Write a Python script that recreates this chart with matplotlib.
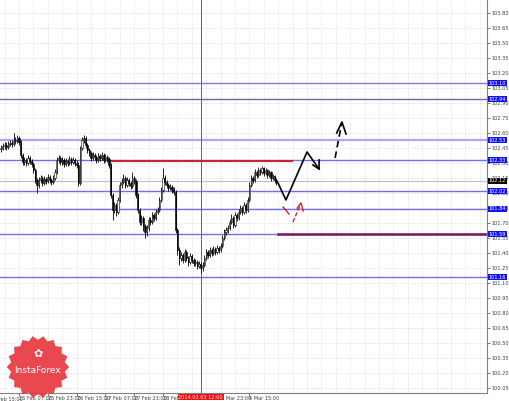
import numpy as np
import matplotlib
matplotlib.use("Agg")
import matplotlib.pyplot as plt
from matplotlib.patches import Polygon

# H1 bars, bar 0 = 24 Feb 21:00
first_open = 102.44
closes = [102.45, 102.47, 102.48, 102.46, 102.49, 102.50, 102.49, 102.52, 102.53, 102.55,
          102.51, 102.38, 102.31, 102.33, 102.30, 102.35, 102.32, 102.29, 102.23, 102.13,
          102.08, 102.13, 102.15, 102.10, 102.14, 102.12, 102.16, 102.13, 102.11, 102.15,
          102.21, 102.33, 102.35, 102.31, 102.33, 102.29, 102.32, 102.30, 102.34, 102.31,
          102.33, 102.30, 102.28, 102.10, 102.45, 102.53, 102.55, 102.48, 102.43, 102.40,
          102.35, 102.38, 102.36, 102.33, 102.37, 102.35, 102.38, 102.33, 102.36, 102.34,
          102.28, 101.98, 101.83, 101.88, 101.81, 101.93, 102.08, 102.11, 102.15, 102.08,
          102.13, 102.10, 102.07, 102.15, 102.12, 101.98, 101.83, 101.71, 101.75, 101.67,
          101.61, 101.65, 101.73, 101.71, 101.78, 101.75, 101.81, 101.83, 101.93, 102.03,
          102.15, 102.11, 102.08, 102.05, 102.06, 102.03, 102.01, 101.63, 101.43, 101.35,
          101.38, 101.33, 101.41, 101.35, 101.31, 101.37, 101.33, 101.30, 101.31, 101.27,
          101.29, 101.25, 101.28, 101.35, 101.41, 101.38, 101.43, 101.40, 101.44, 101.41,
          101.45, 101.43, 101.47, 101.55, 101.61, 101.63, 101.65, 101.71, 101.75, 101.68,
          101.78, 101.75, 101.81, 101.85, 101.81, 101.88, 101.83, 101.93, 102.08, 102.15,
          102.13, 102.21, 102.18, 102.23, 102.21, 102.25, 102.20, 102.23, 102.18, 102.21,
          102.15, 102.17, 102.13, 102.11]
highs = [102.48, 102.50, 102.51, 102.51, 102.52, 102.53, 102.53, 102.60, 102.56, 102.58,
         102.57, 102.53, 102.40, 102.36, 102.35, 102.38, 102.37, 102.34, 102.31, 102.25,
         102.15, 102.16, 102.18, 102.17, 102.17, 102.16, 102.19, 102.18, 102.15, 102.18,
         102.24, 102.36, 102.38, 102.37, 102.36, 102.35, 102.35, 102.34, 102.37, 102.36,
         102.36, 102.35, 102.33, 102.31, 102.47, 102.56, 102.58, 102.57, 102.50, 102.45,
         102.42, 102.41, 102.40, 102.38, 102.40, 102.39, 102.41, 102.40, 102.39, 102.38,
         102.36, 102.30, 102.00, 101.91, 101.90, 101.96, 102.11, 102.15, 102.19, 102.17,
         102.16, 102.15, 102.12, 102.21, 102.17, 102.14, 102.00, 101.85, 101.78, 101.77,
         101.69, 101.68, 101.76, 101.76, 101.81, 101.80, 101.84, 101.86, 101.96, 102.06,
         102.25, 102.18, 102.13, 102.10, 102.09, 102.08, 102.06, 102.03, 101.65, 101.46,
         101.41, 101.40, 101.44, 101.43, 101.37, 101.40, 101.39, 101.35, 101.34, 101.33,
         101.32, 101.31, 101.31, 101.38, 101.44, 101.43, 101.46, 101.45, 101.47, 101.46,
         101.48, 101.47, 101.50, 101.58, 101.64, 101.66, 101.68, 101.74, 101.79, 101.77,
         101.81, 101.80, 101.84, 101.88, 101.87, 101.91, 101.90, 101.96, 102.11, 102.18,
         102.17, 102.24, 102.23, 102.26, 102.25, 102.27, 102.26, 102.25, 102.24, 102.23,
         102.22, 102.19, 102.18, 102.15]
lows = [102.41, 102.43, 102.44, 102.43, 102.44, 102.47, 102.46, 102.47, 102.49, 102.50,
        102.48, 102.35, 102.28, 102.28, 102.27, 102.28, 102.29, 102.26, 102.20, 102.10,
        102.00, 102.05, 102.10, 102.07, 102.08, 102.09, 102.10, 102.10, 102.08, 102.09,
        102.13, 102.19, 102.30, 102.28, 102.28, 102.26, 102.27, 102.27, 102.28, 102.28,
        102.29, 102.27, 102.25, 102.07, 102.08, 102.43, 102.50, 102.45, 102.40, 102.37,
        102.32, 102.33, 102.33, 102.30, 102.31, 102.32, 102.33, 102.30, 102.31, 102.31,
        102.25, 101.95, 101.73, 101.80, 101.77, 101.79, 101.91, 102.05, 102.09, 102.05,
        102.06, 102.07, 102.04, 102.05, 102.09, 101.95, 101.80, 101.68, 101.68, 101.62,
        101.55, 101.57, 101.62, 101.68, 101.69, 101.72, 101.73, 101.79, 101.81, 101.91,
        102.01, 102.08, 102.05, 102.02, 102.03, 102.00, 101.98, 101.60, 101.38, 101.28,
        101.32, 101.30, 101.31, 101.32, 101.27, 101.29, 101.30, 101.27, 101.27, 101.24,
        101.25, 101.20, 101.22, 101.26, 101.33, 101.35, 101.36, 101.37, 101.38, 101.38,
        101.39, 101.40, 101.41, 101.45, 101.53, 101.58, 101.60, 101.63, 101.69, 101.65,
        101.66, 101.72, 101.73, 101.79, 101.78, 101.79, 101.80, 101.81, 101.91, 102.06,
        102.10, 102.11, 102.15, 102.16, 102.18, 102.19, 102.17, 102.18, 102.15, 102.16,
        102.12, 102.13, 102.10, 102.08]

time_labels = ["24 Feb 15:00", "25 Feb 07:00", "25 Feb 23:00", "26 Feb 15:00", "27 Feb 07:00",
               "27 Feb 23:00", "28 Feb 15:00", "3 Mar 23:00", "4 Mar 15:00"]
time_bars = [-6, 10, 26, 42, 58, 74, 90, 122, 138]
now_bar = 111
now_label = "2014.03.03 12:00"

levels = [103.10, 102.94, 102.53, 102.33, 102.02, 101.84, 101.59, 101.16]
level_colors = ["#7b7bd8", "#6a6aa8", "#a8a8ff", "#6f6ff0", "#6f6ff0", "#6f6ff0", "#6f6ff0", "#6f6ff0"]
bid = 102.12

res_line = (60.5, 161.5, 102.32)   # red segment: from bar, to bar, price
sup_line = (153.9, 300, 101.59)    # purple segment

# forecast paths (bar, price)
black_path = [(153.9, 102.10), (158.3, 101.93), (170.0, 102.41), (176.7, 102.24)]
black_head = [(173.3, 102.28), (176.7, 102.24), (176.7, 102.33)]
dash_path = [(185.6, 102.35), (189.4, 102.71)]
dash_head = [(186.5, 102.60), (189.4, 102.71), (191.7, 102.59)]
red_a = [(156.7, 101.86), (160.0, 101.79)]
red_b = [(162.2, 101.71), (166.7, 101.90)]
red_head = [(164.6, 101.85), (166.7, 101.90), (167.9, 101.82)]

opens = [first_open] + closes[:-1]
x = np.arange(len(closes))

fig = plt.figure(figsize=(5.10, 4.01), dpi=100)
ax = fig.add_axes([0, 8 / 401, 487 / 510, 393 / 401])

# grid
yt = np.arange(100.05, 103.9, 0.15)
for v in yt:
    ax.axhline(v, color="#c8c8c8", lw=0.5, ls=(0, (1, 2)), zorder=0)
for b in np.arange(2, 270, 8):
    ax.axvline(b, color="#c8c8c8", lw=0.5, ls=(0, (1, 2)), zorder=0)

# levels
for lv, c in zip(levels, level_colors):
    lw = 1.6 if lv == 102.53 else 1.0
    ax.axhline(lv, color=c, lw=lw, zorder=1)
ax.axhline(bid, color="#c0c0c0", lw=0.8, zorder=1)

ax.axvline(now_bar, color="#e03030", lw=0.7, zorder=1)

ax.plot([res_line[0], res_line[1]], [res_line[2]] * 2, color="#c8203c", lw=1.5, zorder=2)
ax.plot([sup_line[0], sup_line[1]], [sup_line[2]] * 2, color="#7a1a55", lw=1.8, zorder=2)

# candles
ax.vlines(x, lows, highs, color="black", lw=0.6, zorder=3)
for i in range(len(closes)):
    o, c = opens[i], closes[i]
    fc = "white" if c >= o else "black"
    ax.bar(x[i], max(abs(c - o), 0.006), bottom=min(o, c), width=0.75,
           color=fc, edgecolor="black", lw=0.4, zorder=4)

# forecast arrows
bx, by = zip(*black_path)
ax.plot(bx, by, color="black", lw=1.2, zorder=5)
hx, hy = zip(*black_head)
ax.plot(hx, hy, color="black", lw=1.2, zorder=5)
dx, dy = zip(*dash_path)
ax.plot(dx, dy, color="black", lw=1.2, ls=(0, (4, 2.5)), zorder=5)
hx, hy = zip(*dash_head)
ax.plot(hx, hy, color="black", lw=1.2, zorder=5)
rx, ry = zip(*red_a)
ax.plot(rx, ry, color="#e02020", lw=1.0, zorder=5)
rx, ry = zip(*red_b)
ax.plot(rx, ry, color="#e02020", lw=1.0, ls=(0, (3, 1.5)), zorder=5)
hx, hy = zip(*red_head)
ax.plot(hx, hy, color="#e02020", lw=1.0, zorder=5)

# axes styling
for s in ["left", "top"]:
    ax.spines[s].set_visible(False)
for s in ["right", "bottom"]:
    ax.spines[s].set_color("#808080")
    ax.spines[s].set_linewidth(0.8)
ax.yaxis.tick_right()
ax.set_yticks(yt)
ax.set_yticklabels([f"{v:.2f}" for v in yt])
ax.tick_params(axis="y", labelsize=3.6, colors="#404040", length=2, width=0.5, pad=1.5)
ax.set_xticks(time_bars[1:])
ax.set_xticklabels(time_labels[1:], ha="left")
ax.tick_params(axis="x", labelsize=3.6, colors="#404040", length=2, width=0.5, pad=0.5)

# limits last so tick setting cannot widen them
ax.set_xlim(-0.56, 270)
ax.set_ylim(100.0, 103.93)

xtr = ax.get_xaxis_transform()
ax.text(time_bars[0], -0.009, time_labels[0], transform=xtr, ha="left", va="top",
        fontsize=3.6, color="#404040", clip_on=False)

ytr = ax.get_yaxis_transform()
for lv in levels:
    ax.text(1.003, lv, f"{lv:.2f}", transform=ytr, ha="left", va="center", fontsize=3.6,
            color="white", clip_on=False, zorder=6,
            bbox=dict(boxstyle="square,pad=0.15", fc="#1010f0", ec="none"))
ax.text(1.003, bid, f"{bid:.2f}", transform=ytr, ha="left", va="center", fontsize=3.6,
        color="white", clip_on=False, zorder=6,
        bbox=dict(boxstyle="square,pad=0.15", fc="black", ec="none"))
ax.text(now_bar, -0.0105, now_label, transform=xtr, ha="center", va="center",
        fontsize=3.6, color="white", clip_on=False, zorder=6,
        bbox=dict(boxstyle="square,pad=0.15", fc="#f01010", ec="none"))

# watermark logo
lax = fig.add_axes([4 / 510, 1 - 401 / 401, 68 / 510, 68 / 401])
lax.set_xlim(-1, 1)
lax.set_ylim(-1, 1)
lax.axis("off")
ang = np.linspace(0, 2 * np.pi, 37)[:-1]
rad = np.where(np.arange(36) % 2 == 0, 0.92, 0.80)
lax.add_patch(Polygon(np.column_stack([rad * np.cos(ang), rad * np.sin(ang)]),
                      closed=True, fc="#e8343c", ec="none", alpha=0.9))
lax.text(0, 0.38, "✿", ha="center", va="center", fontsize=8, color="white")
lax.text(0, -0.1, "InstaForex", ha="center", va="center", fontsize=6.5, color="white")

fig.savefig("out.png", dpi=100)
